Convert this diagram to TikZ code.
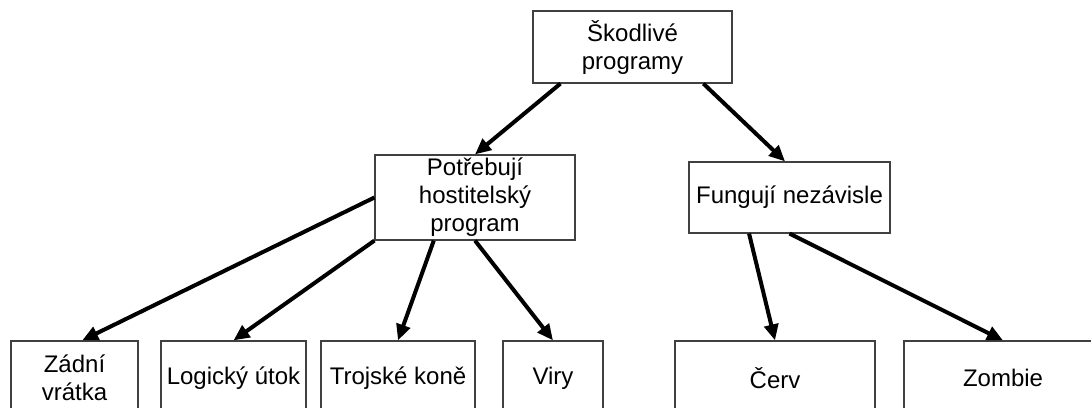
\documentclass[tikz,border=0pt]{standalone}
\usepackage{fontspec}
\setmainfont{Liberation Sans}
\usetikzlibrary{arrows.meta,calc}

\tikzset{
  box/.style={draw=black!75, line width=1.2pt, fill=white, inner sep=0pt,
    align=center, font=\fontsize{24}{28}\selectfont},
  leaf/.style={box, minimum height=74pt},
  link/.style={line width=4pt, -{Triangle[length=16pt,width=14pt]}}
}

\begin{document}
\begin{tikzpicture}[x=1pt, y=-1pt]
  \clip (0,0) rectangle (1091,407);

  % root and the two groups
  \node[box, minimum width=199pt, minimum height=72pt] (root) at (632.5,47) {Škodlivé\\programy};
  \node[box, minimum width=200pt, minimum height=85pt] (host) at (475,197.5) {Potřebují\\hostitelský\\program};
  \node[box, minimum width=201pt, minimum height=71pt] (indep) at (789.5,197.5) {Fungují nezávisle};

  % leaves (their lower edges run past the page)
  \node[leaf, minimum width=127pt] (backdoor) at (74.5,378) {Zádní\\vrátka};
  \node[leaf, minimum width=145pt] (logic) at (233.5,378) {Logický útok};
  \node[leaf, minimum width=154pt] (trojan) at (398,378) {Trojské koně};
  \node[leaf, minimum width=100pt] (virus) at (553,378) {Viry};
  \node[leaf, minimum width=200pt] (worm) at (775,378) {Červ};
  \node[leaf, minimum width=198pt] (zombie) at (1003,378) {Zombie};

  % connectors
  \draw[link] ($(root.south west)!0.14!(root.south east)$) -- (host.north);
  \draw[link] ($(root.south west)!0.854!(root.south east)$) -- ($(indep.north west)!0.478!(indep.north east)$);

  \draw[link] (host.west) -- ($(backdoor.north west)!0.56!(backdoor.north east)$);
  \draw[link] (host.south west) -- (logic.north);
  \draw[link] ($(host.south west)!0.295!(host.south east)$) -- (trojan.north);
  \draw[link] (host.south) -- (virus.north);

  \draw[link] ($(indep.south west)!0.3!(indep.south east)$) -- (worm.north);
  \draw[link] (indep.south) -- (zombie.north);
\end{tikzpicture}
\end{document}
